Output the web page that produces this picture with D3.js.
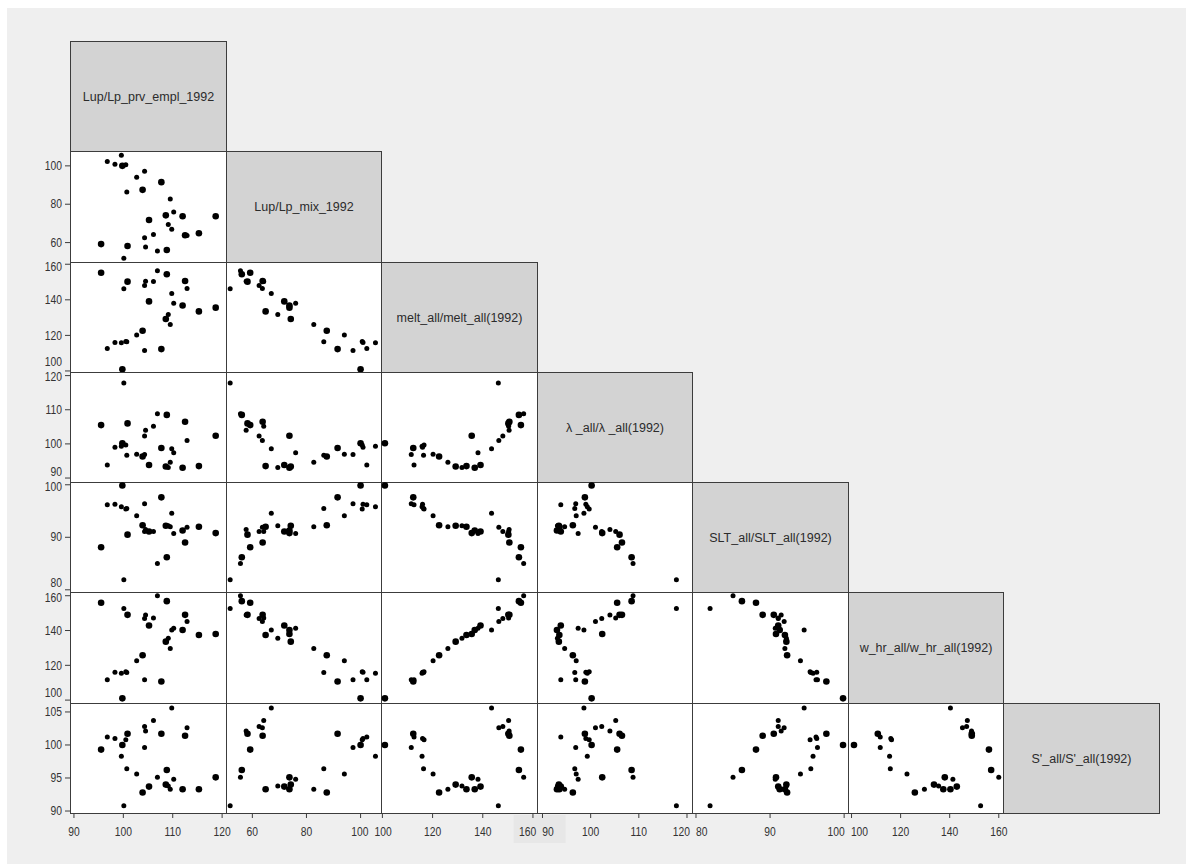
<!DOCTYPE html>
<html>
<head>
<meta charset="utf-8">
<style>
  html, body { margin: 0; padding: 0; background: #fff; overflow: hidden; }
  svg { display: block; }
</style>
</head>
<body>
<script src="https://cdn.jsdelivr.net/npm/d3@7"></script>
<script>
// one entry per observation, same order in every array
const lupPrv = [99.8, 104.3, 107.7, 96.75, 99.6, 98.3, 100.5, 100.7, 102.7, 103.9, 109.5, 108.6, 109.1, 115.3, 118.7, 112.0, 110.2, 105.2, 109.8, 100.1, 112.9, 104.3, 106.1, 112.5, 100.85, 104.5, 108.8, 95.5, 106.9];
const lupMix = [100.0, 97.2, 91.5, 102.3, 105.5, 100.9, 100.6, 86.4, 94.0, 87.5, 82.7, 74.2, 69.4, 64.9, 73.7, 73.7, 76.0, 71.8, 67.0, 51.8, 63.7, 62.5, 64.2, 63.8, 58.2, 57.7, 56.1, 59.2, 55.6];
const melt = [101.0, 111.5, 112.3, 112.6, 115.8, 116.0, 116.6, 116.4, 120.2, 122.6, 126.1, 129.2, 131.7, 133.5, 135.6, 136.8, 138.1, 139.1, 143.5, 146.2, 146.4, 148.0, 150.3, 150.6, 150.2, 150.5, 154.4, 155.2, 156.3];
const lambda = [100.2, 96.9, 98.8, 93.8, 99.3, 99.0, 99.7, 96.7, 97.0, 96.3, 94.6, 93.4, 93.1, 93.5, 102.4, 93.0, 97.4, 93.8, 98.6, 117.8, 101.0, 102.3, 105.2, 106.5, 106.0, 104.0, 108.5, 105.5, 108.8];
const slt = [99.85, 96.4, 97.6, 96.2, 95.8, 96.3, 95.4, 95.5, 94.1, 92.3, 92.0, 92.2, 92.2, 92.0, 90.8, 91.3, 90.7, 91.1, 94.6, 81.9, 91.9, 91.1, 91.1, 89.0, 90.5, 91.5, 86.2, 88.1, 85.0];
const whr = [101.0, 111.7, 110.7, 111.7, 115.5, 116.0, 116.3, 115.8, 122.6, 125.8, 129.7, 133.6, 135.5, 137.4, 138.0, 140.3, 141.3, 142.9, 140.3, 152.6, 145.2, 146.9, 147.2, 149.0, 149.0, 148.9, 156.9, 156.0, 160.0];
const sPrime = [100.0, 99.6, 101.7, 101.2, 98.3, 101.0, 100.8, 96.4, 95.6, 92.8, 93.3, 94.0, 93.8, 93.3, 95.1, 93.3, 94.8, 93.7, 105.6, 90.8, 102.6, 102.8, 103.7, 101.4, 101.7, 102.1, 96.2, 99.3, 95.1];
const bigDot = [1, 0, 1, 0, 0, 0, 0, 0, 0, 1, 0, 1, 0, 1, 1, 1, 0, 1, 0, 0, 0, 0, 0, 1, 1, 0, 1, 1, 0];

const varLabels = [
  "Lup/Lp_prv_empl_1992",
  "Lup/Lp_mix_1992",
  "melt_all/melt_all(1992)",
  "\u03bb _all/\u03bb _all(1992)",
  "SLT_all/SLT_all(1992)",
  "w_hr_all/w_hr_all(1992)",
  "S'_all/S'_all(1992)"
];
const varDomains = [
  [89.2, 120.7], [50.1, 107.6], [99.5, 161.5], [88.8, 121.1],
  [79.5, 100.5], [98.5, 161.9], [89.7, 106.4]
];
const varTicks = [
  [90, 100, 110, 120], [60, 80, 100], [100, 120, 140, 160], [90, 100, 110, 120],
  [80, 90, 100], [100, 120, 140, 160], [90, 95, 100, 105]
];

const series = [lupPrv, lupMix, melt, lambda, slt, whr, sPrime];
const nVar = series.length;
const obs = d3.range(lupPrv.length);

const W = 1186, H = 864;
const gLeft = 70, gTop = 41, gRight = 1159, gBottom = 813;
const cw = (gRight - gLeft) / nVar;
const ch = (gBottom - gTop) / nVar;
const tickFont = "'Liberation Sans', Arial, sans-serif";
const labelFont = "'Liberation Sans', Arial, sans-serif";
const tickSquash = 0.86;

const svg = d3.select("body").append("svg")
  .attr("width", W)
  .attr("height", H);

svg.append("rect").attr("width", W).attr("height", H).attr("fill", "#ffffff");
svg.append("rect").attr("x", 7).attr("y", 8).attr("width", W - 7).attr("height", H - 8).attr("fill", "#efefef");

const xs = series.map((s, k) => d3.scaleLinear().domain(varDomains[k]).range([gLeft + k * cw, gLeft + (k + 1) * cw]));
const ys = series.map((s, k) => d3.scaleLinear().domain(varDomains[k]).range([gTop + (k + 1) * ch, gTop + k * ch]));

// faint highlighted box behind the 160 / 90 labels
svg.append("rect")
  .attr("x", gLeft + 3 * cw - 23).attr("y", gBottom + 2)
  .attr("width", 52).attr("height", 28)
  .attr("fill", "#e7e7e7");

for (let i = 0; i < nVar; i++) {
  for (let j = 0; j <= i; j++) {
    const x0 = Math.round(gLeft + j * cw) + 0.5;
    const y0 = Math.round(gTop + i * ch) + 0.5;
    const x1 = Math.round(gLeft + (j + 1) * cw) + 0.5;
    const y1 = Math.round(gTop + (i + 1) * ch) + 0.5;
    const g = svg.append("g");
    g.append("rect")
      .attr("x", x0).attr("y", y0)
      .attr("width", x1 - x0).attr("height", y1 - y0)
      .attr("fill", i === j ? "#d3d3d3" : "#ffffff")
      .attr("stroke", "#3c3c3c")
      .attr("stroke-width", 1);

    if (i === j) {
      g.append("text")
        .attr("x", (x0 + x1) / 2)
        .attr("y", (y0 + y1) / 2)
        .attr("dy", "0.35em")
        .attr("text-anchor", "middle")
        .attr("font-family", labelFont)
        .attr("font-size", "12.5px")
        .attr("fill", "#2b2b2b")
        .text(varLabels[i]);
    } else {
      g.selectAll("circle")
        .data(obs)
        .enter()
        .append("circle")
        .attr("cx", d => xs[j](series[j][d]))
        .attr("cy", d => ys[i](series[i][d]))
        .attr("r", d => bigDot[d] ? 3.3 : 2.5)
        .attr("fill", "#000");
    }
  }
}

function tickText(sel, x, y, anchor, t) {
  return sel.append("text")
    .attr("transform", `translate(${x},${y}) scale(${tickSquash},1)`)
    .attr("dy", "0.35em")
    .attr("text-anchor", anchor)
    .attr("font-family", tickFont)
    .attr("font-size", "12px")
    .attr("fill", "#333")
    .text(t);
}

// left axes (rows 2..7)
for (let i = 1; i < nVar; i++) {
  const rTop = gTop + i * ch, rBot = gTop + (i + 1) * ch;
  const ax = svg.append("g");
  varTicks[i].forEach(t => {
    const y = ys[i](t);
    ax.append("line")
      .attr("x1", gLeft - 5).attr("x2", gLeft)
      .attr("y1", y).attr("y2", y)
      .attr("stroke", "#3c3c3c");
    let ly = Math.max(y, rTop + 5);
    if (i < nVar - 1) ly = Math.min(ly, rBot - 10);
    tickText(ax, gLeft - 8, ly, "end", t);
  });
}

// bottom axes (cols 1..6); labels that collide with the next column are pushed apart
const bottomLabels = [];
for (let j = 0; j < nVar - 1; j++) {
  const ax = svg.append("g");
  varTicks[j].forEach(t => {
    const x = xs[j](t);
    ax.append("line")
      .attr("x1", x).attr("x2", x)
      .attr("y1", gBottom).attr("y2", gBottom + 5)
      .attr("stroke", "#3c3c3c");
    const lbl = { col: j, x: x, t: t, w: String(t).length * 6.7 * tickSquash, g: ax };
    bottomLabels.push(lbl);
  });
}
for (let k = 1; k < bottomLabels.length; k++) {
  const a = bottomLabels[k - 1], b = bottomLabels[k];
  if (a.col === b.col) continue;
  const need = (a.w + b.w) / 2 + 6;
  const gap = b.x - a.x;
  if (gap < need) {
    const shift = (need - gap) / 2;
    a.x -= shift;
    b.x += shift;
  }
}
bottomLabels.forEach(l => tickText(l.g, l.x, gBottom + 19, "middle", l.t));
</script>
</body>
</html>
